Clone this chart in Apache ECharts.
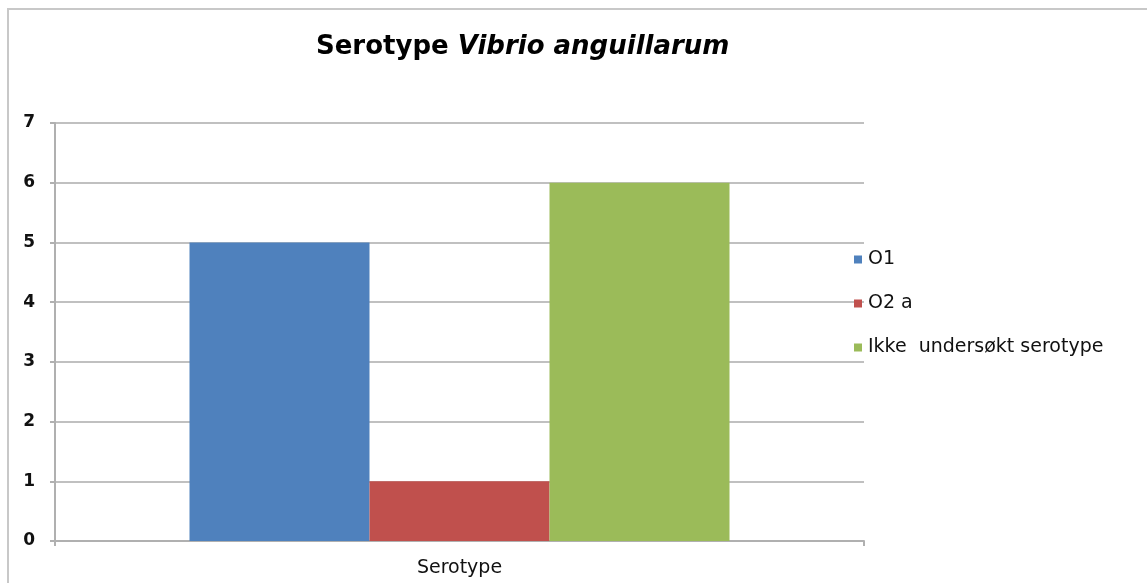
<!DOCTYPE html>
<html>
<head>
<meta charset="utf-8">
<script src="https://cdn.jsdelivr.net/npm/echarts@6/dist/echarts.min.js"></script>
<style>
html, body { margin: 0; padding: 0; background: #fff; }
#chart { width: 1147px; height: 583px; }
</style>
</head>
<body>
<div id="chart"></div>
<script>
// data
const categories = ["Serotype"];
const seriesNames = ["O1", "O2 a", "Ikke  undersøkt serotype"];
const seriesValues = [[5], [1], [6]];
const seriesColors = ["#4F81BD", "#C0504D", "#9BBB59"];

const chart = echarts.init(document.getElementById("chart"));

const series = seriesNames.map(function (name, i) {
    return {
        name: name,
        type: "bar",
        data: seriesValues[i],
        barWidth: 180,
        barGap: "0%",
        itemStyle: { color: seriesColors[i] }
    };
});

const FONT = "DejaVu Sans";

chart.setOption({
    animation: false,
    textStyle: { fontFamily: FONT },
    title: {
        text: "{b|Serotype }{i|Vibrio anguillarum}",
        left: 311,
        top: 29,
        textStyle: {
            rich: {
                b: { fontFamily: FONT, fontWeight: "bold", fontSize: 26, color: "#000" },
                i: { fontFamily: FONT, fontWeight: "bold", fontStyle: "italic", fontSize: 26, color: "#000" }
            }
        }
    },
    graphic: [
        {
            type: "rect",
            shape: { x: 8, y: 9, width: 1200, height: 650 },
            style: { fill: "none", stroke: "#c8c8c8", lineWidth: 2 },
            silent: true
        }
    ],
    legend: {
        orient: "vertical",
        left: 849,
        top: 245,
        itemWidth: 8,
        itemHeight: 8,
        itemGap: 25,
        icon: "rect",
        textStyle: { fontFamily: FONT, fontSize: 19, color: "#111", padding: [0, 0, 0, 1] },
        data: seriesNames
    },
    grid: {
        left: 55,
        right: 283,
        top: 123,
        bottom: 42,
        containLabel: false
    },
    xAxis: {
        type: "category",
        data: categories,
        axisLine: { lineStyle: { color: "#b0b0b0", width: 2 } },
        axisTick: { show: true, length: 5, lineStyle: { color: "#b0b0b0", width: 2 } },
        axisLabel: { fontFamily: FONT, fontSize: 19, color: "#111", margin: 18 }
    },
    yAxis: {
        type: "value",
        min: 0,
        max: 7,
        interval: 1,
        axisLine: { show: true, lineStyle: { color: "#b0b0b0", width: 2 } },
        axisTick: { show: true, length: 5, lineStyle: { color: "#b0b0b0", width: 2 } },
        axisLabel: { fontFamily: FONT, fontSize: 17, fontWeight: "bold", color: "#111", margin: 20 },
        splitLine: { lineStyle: { color: "#c0c0c0", width: 2 } }
    },
    series: series
});
</script>
</body>
</html>
